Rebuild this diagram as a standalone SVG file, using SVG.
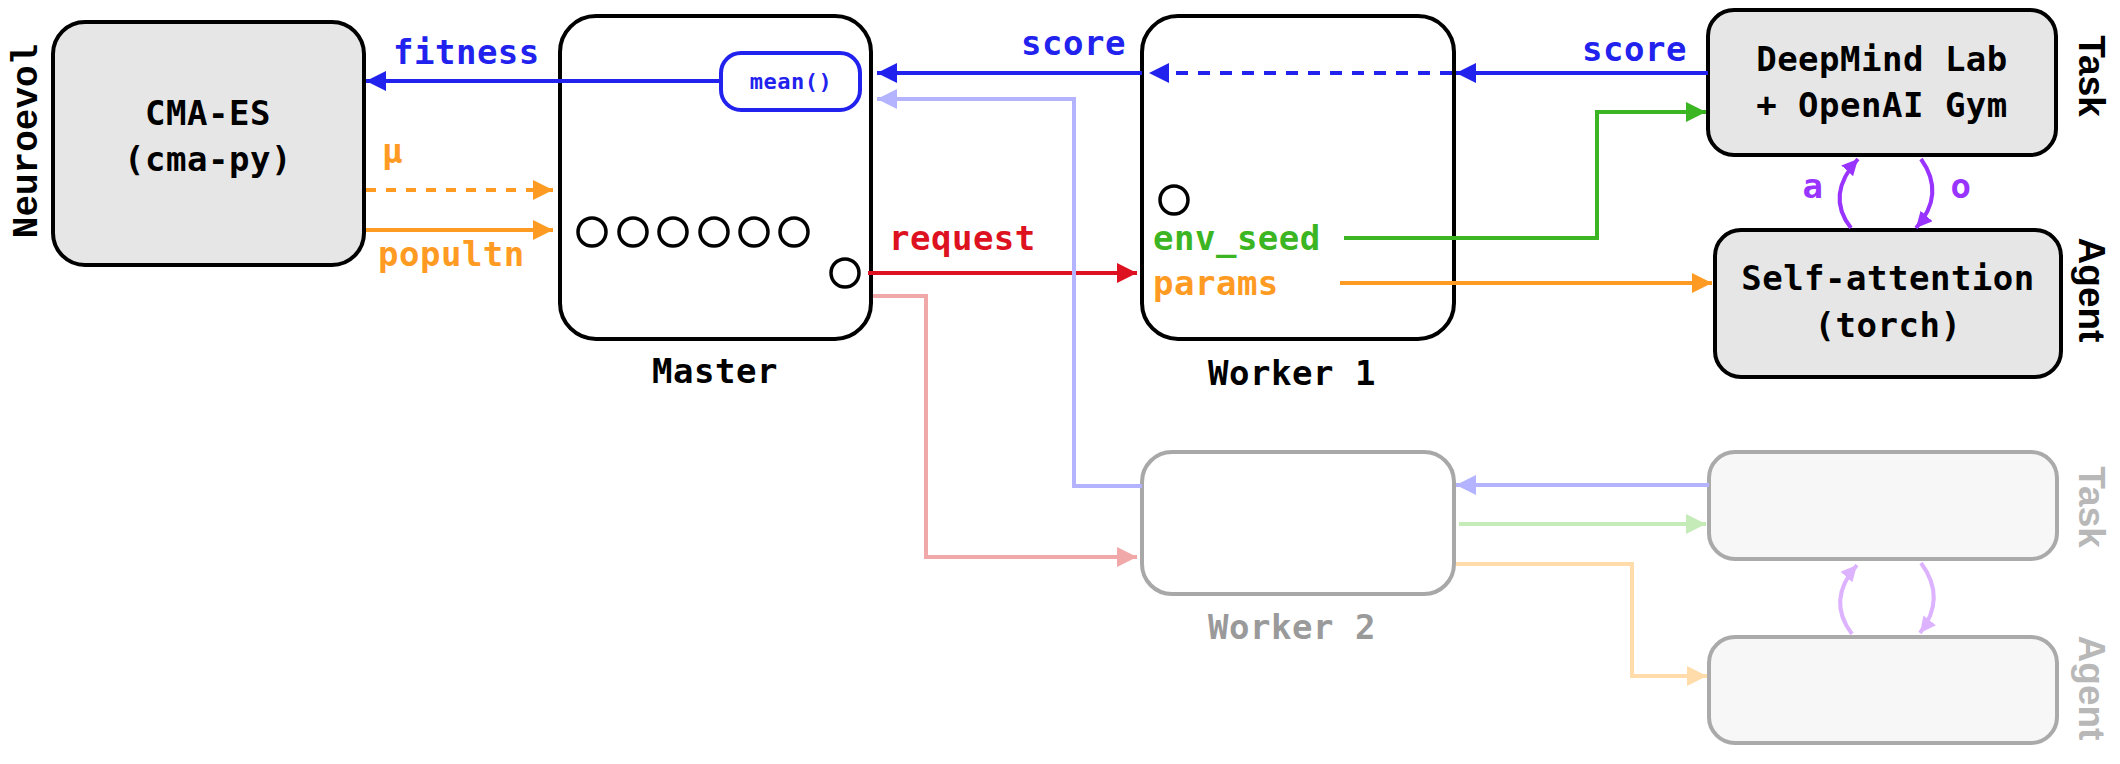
<svg xmlns="http://www.w3.org/2000/svg" width="2120" height="764" viewBox="0 0 2120 764">
<defs>
<style>
.t{font-family:"DejaVu Sans Mono","Liberation Mono",monospace;font-size:34px;font-weight:bold;letter-spacing:0.5px}
.side{font-family:"Liberation Sans",Arial,sans-serif;font-weight:bold;font-size:37px}
.box{stroke:#000;stroke-width:4}
.gbox{stroke:#aaaaaa;stroke-width:4;fill:#f7f7f7}
.ln{fill:none;stroke-width:4}
.dot{fill:none;stroke:#000;stroke-width:3.5}
</style>
<marker id="mB" markerUnits="userSpaceOnUse" markerWidth="20" markerHeight="20" refX="20" refY="10" orient="auto"><path d="M0,0L20,10L0,20z" fill="#2222ee"/></marker>
<marker id="mO" markerUnits="userSpaceOnUse" markerWidth="20" markerHeight="20" refX="20" refY="10" orient="auto"><path d="M0,0L20,10L0,20z" fill="#ff9a22"/></marker>
<marker id="mR" markerUnits="userSpaceOnUse" markerWidth="20" markerHeight="20" refX="20" refY="10" orient="auto"><path d="M0,0L20,10L0,20z" fill="#dd1120"/></marker>
<marker id="mG" markerUnits="userSpaceOnUse" markerWidth="20" markerHeight="20" refX="20" refY="10" orient="auto"><path d="M0,0L20,10L0,20z" fill="#3cb523"/></marker>
<marker id="mP" markerUnits="userSpaceOnUse" markerWidth="18" markerHeight="18" refX="16" refY="8" orient="auto"><path d="M0,0L16,8L0,16z" fill="#9933ff"/></marker>
<marker id="mLB" markerUnits="userSpaceOnUse" markerWidth="20" markerHeight="20" refX="20" refY="10" orient="auto"><path d="M0,0L20,10L0,20z" fill="#b3b3ff"/></marker>
<marker id="mLR" markerUnits="userSpaceOnUse" markerWidth="20" markerHeight="20" refX="20" refY="10" orient="auto"><path d="M0,0L20,10L0,20z" fill="#f0a8a8"/></marker>
<marker id="mLG" markerUnits="userSpaceOnUse" markerWidth="20" markerHeight="20" refX="20" refY="10" orient="auto"><path d="M0,0L20,10L0,20z" fill="#c5ebb8"/></marker>
<marker id="mLO" markerUnits="userSpaceOnUse" markerWidth="20" markerHeight="20" refX="20" refY="10" orient="auto"><path d="M0,0L20,10L0,20z" fill="#ffdcaa"/></marker>
<marker id="mLP" markerUnits="userSpaceOnUse" markerWidth="18" markerHeight="18" refX="16" refY="8" orient="auto"><path d="M0,0L16,8L0,16z" fill="#ddb3ff"/></marker>
</defs>
<rect width="2120" height="764" fill="#fff"/>

<g id="side-labels">
<text transform="translate(37,141) rotate(-90)" text-anchor="middle" style="font-family:'Liberation Mono','Courier New',monospace;font-weight:bold;font-size:36px">Neuroevol</text>
<text class="side" transform="translate(2079,76) rotate(90)" text-anchor="middle">Task</text>
<text class="side" transform="translate(2079,290) rotate(90)" text-anchor="middle">Agent</text>
<text class="side" transform="translate(2079,507) rotate(90)" text-anchor="middle" fill="#b8b8b8">Task</text>
<text class="side" transform="translate(2079,688) rotate(90)" text-anchor="middle" fill="#b8b8b8">Agent</text>
</g>

<g id="cmaes">
<rect class="box" x="53" y="22" width="311" height="243" rx="32" fill="#e6e6e6"/>
<text class="t" x="208" y="125" text-anchor="middle">CMA-ES</text>
<text class="t" x="208" y="171" text-anchor="middle">(cma-py)</text>
</g>

<g id="master">
<rect class="box" x="560" y="16" width="311" height="323" rx="36" fill="#fff"/>
<rect x="721" y="53" width="139" height="57" rx="20" fill="#fff" stroke="#2222ee" stroke-width="4"/>
<text class="t" x="791" y="89" text-anchor="middle" fill="#2222ee" style="font-size:22px">mean()</text>
<circle class="dot" cx="592" cy="232" r="14"/>
<circle class="dot" cx="633" cy="232" r="14"/>
<circle class="dot" cx="673" cy="232" r="14"/>
<circle class="dot" cx="714" cy="232" r="14"/>
<circle class="dot" cx="754" cy="232" r="14"/>
<circle class="dot" cx="794" cy="232" r="14"/>
<circle class="dot" cx="845" cy="273" r="14"/>
<text class="t" x="715" y="383" text-anchor="middle">Master</text>
</g>

<g id="worker1">
<rect class="box" x="1142" y="16" width="312" height="323" rx="36" fill="#fff"/>
<circle class="dot" cx="1174" cy="200" r="14"/>
<text class="t" x="1153" y="250" fill="#3cb523">env_seed</text>
<text class="t" x="1153" y="295" fill="#ff9a22">params</text>
<text class="t" x="1292" y="385" text-anchor="middle">Worker 1</text>
</g>

<g id="task">
<rect class="box" x="1708" y="10" width="348" height="145" rx="26" fill="#e6e6e6"/>
<text class="t" x="1882" y="71" text-anchor="middle">DeepMind Lab</text>
<text class="t" x="1882" y="117" text-anchor="middle">+ OpenAI Gym</text>
</g>

<g id="agent">
<rect class="box" x="1715" y="230" width="346" height="147" rx="26" fill="#e6e6e6"/>
<text class="t" x="1888" y="290" text-anchor="middle">Self-attention</text>
<text class="t" x="1888" y="337" text-anchor="middle">(torch)</text>
</g>

<g id="worker2">
<rect x="1142" y="452" width="312" height="142" rx="30" fill="#fff" stroke="#a8a8a8" stroke-width="4"/>
<text class="t" x="1292" y="639" text-anchor="middle" fill="#9a9a9a">Worker 2</text>
</g>
<g id="task2"><rect class="gbox" x="1709" y="452" width="348" height="107" rx="26"/></g>
<g id="agent2"><rect class="gbox" x="1709" y="637" width="348" height="106" rx="26"/></g>

<g id="connectors">
<line class="ln" x1="721" y1="81" x2="366" y2="81" stroke="#2222ee" marker-end="url(#mB)"/>
<text class="t" x="393" y="64" fill="#2222ee">fitness</text>
<line class="ln" x1="366" y1="190" x2="553" y2="190" stroke="#ff9a22" stroke-dasharray="10 10" marker-end="url(#mO)"/>
<text class="t" x="382" y="163" fill="#ff9a22">μ</text>
<line class="ln" x1="366" y1="230" x2="553" y2="230" stroke="#ff9a22" marker-end="url(#mO)"/>
<text class="t" x="378" y="266" fill="#ff9a22">popultn</text>

<line class="ln" x1="1708" y1="73" x2="1456" y2="73" stroke="#2222ee" marker-end="url(#mB)"/>
<text class="t" x="1582" y="61" fill="#2222ee">score</text>
<line class="ln" x1="1452" y1="73" x2="1149" y2="73" stroke="#2222ee" stroke-dasharray="12 10" marker-end="url(#mB)"/>
<line class="ln" x1="1142" y1="73" x2="877" y2="73" stroke="#2222ee" marker-end="url(#mB)"/>
<text class="t" x="1021" y="55" fill="#2222ee">score</text>

<line class="ln" x1="868" y1="273" x2="1137" y2="273" stroke="#dd1120" marker-end="url(#mR)"/>
<text class="t" x="889" y="250" fill="#dd1120">request</text>

<polyline class="ln" points="1344,238 1597,238 1597,112 1706,112" stroke="#3cb523" marker-end="url(#mG)"/>
<line class="ln" x1="1340" y1="283" x2="1712" y2="283" stroke="#ff9a22" marker-end="url(#mO)"/>

<path class="ln" d="M1851,228 Q1825,195 1858,159" stroke="#9933ff" marker-end="url(#mP)"/>
<path class="ln" d="M1921,159 Q1946,194 1916,228" stroke="#9933ff" marker-end="url(#mP)"/>
<text class="t" x="1813" y="198" text-anchor="middle" fill="#9933ff">a</text>
<text class="t" x="1961" y="198" text-anchor="middle" fill="#9933ff">o</text>

<polyline class="ln" points="873,296 926,296 926,557 1137,557" stroke="#f0a8a8" marker-end="url(#mLR)"/>
<polyline class="ln" points="1142,486 1074,486 1074,99 877,99" stroke="#b3b3ff" marker-end="url(#mLB)"/>
<line class="ln" x1="1709" y1="485" x2="1456" y2="485" stroke="#b3b3ff" marker-end="url(#mLB)"/>
<line class="ln" x1="1459" y1="524" x2="1706" y2="524" stroke="#c5ebb8" marker-end="url(#mLG)"/>
<polyline class="ln" points="1456,564 1632,564 1632,676 1707,676" stroke="#ffdcaa" marker-end="url(#mLO)"/>
<path class="ln" d="M1852,634 Q1826,600 1857,565" stroke="#ddb3ff" marker-end="url(#mLP)"/>
<path class="ln" d="M1921,563 Q1947,598 1920,633" stroke="#ddb3ff" marker-end="url(#mLP)"/>
</g>
</svg>
